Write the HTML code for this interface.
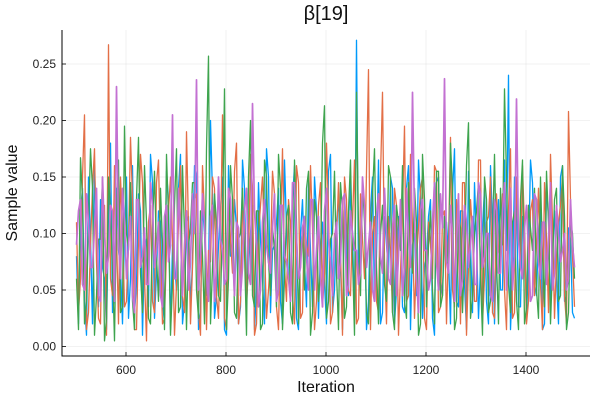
<!DOCTYPE html>
<html><head><meta charset="utf-8"><style>
html,body{margin:0;padding:0;background:#fff;}
svg{display:block;font-family:"Liberation Sans","DejaVu Sans",sans-serif;}
</style></head><body>
<svg id="chart" width="600" height="400" viewBox="0 0 600 400"></svg>
<script>
// values in thousandths of the sample value; each chain = odd samples (A) interleaved with even samples (B)
const xTicks = [600, 800, 1000, 1200, 1400];
const yTicks = [0.00, 0.05, 0.10, 0.15, 0.20, 0.25];
const yTickLabels = ["0.00", "0.05", "0.10", "0.15", "0.20", "0.25"];
const chainColors = ["#009AFA", "#E36F47", "#3EA44E", "#C371D2"];
const chain1A = [80,120,40,150,20,95,130,60,110,30,140,70,100,25,160,55,120,85,35,145,65,110,20,130,90,50,170,40,115,75,150,30,100,60,135,45,120,15,160,80,105,35,140,70,125,50,95,20,150,85,110,40,165,60,130,25,100,75,145,35,120,90,55,155,30,110,70,135,45,100,271,60,125,40,150,80,20,115,65,140,50,105,30,160,90,45,130,70,115,25,145,60,100,80,135,40,120,55,155,30,95,70,140,20,110,85,50,165,240,60,125,35,100,75,145,45,130,20,115,90,60,150,40,105,30];
const chain1B = [20,140,10,95,160,35,70,15,180,45,85,20,150,60,30,135,10,95,170,25,120,40,155,15,75,140,20,110,35,160,15,125,45,200,25,90,150,10,80,130,20,165,40,100,15,145,60,175,30,90,140,20,105,45,160,15,130,35,85,150,25,110,20,170,50,130,15,95,145,25,60,135,15,120,40,165,30,90,150,20,115,35,140,15,100,165,25,80,130,10,150,45,110,20,175,35,120,15,90,145,25,105,40,160,20,130,50,85,15,150,35,115,25,165,55,100,15,140,30,120,20,160,45,95,25];
const chain2A = [110,60,205,30,140,75,20,125,267,45,100,150,35,90,130,15,170,60,110,40,145,80,25,120,95,55,160,30,105,70,135,10,115,85,150,45,95,25,130,65,180,40,110,75,140,20,125,90,50,155,35,100,70,130,45,160,25,115,80,105,40,145,65,120,30,95,85,150,50,110,20,135,60,245,100,40,150,75,115,30,125,65,195,45,105,80,140,25,110,60,155,35,120,90,50,130,20,145,70,100,40,165,60,115,30,135,80,50,120,25,150,70,105,40,130,90,55,145,30,110,75,125,45,208,80];
const chain2B = [30,150,15,90,175,25,120,10,60,160,20,105,40,185,15,95,145,5,125,30,165,20,85,150,10,110,45,190,20,130,30,160,15,75,140,25,205,15,95,155,20,120,35,170,10,100,150,25,80,135,15,175,40,110,20,145,30,90,160,15,125,35,180,20,100,145,10,130,45,165,25,95,155,15,115,30,225,20,85,140,10,120,40,170,25,105,150,15,90,160,30,115,20,185,35,95,145,10,130,40,165,20,110,150,25,85,135,15,175,30,100,160,20,120,45,140,15,95,170,25,110,150,20,130,35];
const chain3A = [60,167,20,110,140,45,95,5,150,70,120,30,195,85,40,130,65,160,25,105,80,140,15,115,55,175,35,100,90,145,50,120,20,257,70,110,40,228,60,130,25,100,85,150,45,120,15,165,75,105,35,140,60,125,20,110,90,50,155,30,115,70,213,40,100,65,145,25,120,80,225,45,110,20,135,70,100,55,160,30,125,85,40,145,65,110,20,130,90,50,155,35,115,70,140,25,105,80,198,45,120,60,150,30,95,75,140,228,55,110,40,130,20,125,85,50,150,35,110,70,140,45,115,30,100];
const chain3B = [15,130,40,175,10,95,150,25,120,5,165,35,100,145,15,185,30,110,20,155,40,90,170,10,125,30,160,15,105,145,25,80,175,20,135,45,110,15,160,30,95,140,10,200,35,120,20,150,45,85,170,15,115,30,165,20,100,140,10,130,40,180,25,95,155,15,120,35,165,10,105,145,30,90,175,20,125,40,150,15,110,160,25,85,140,10,170,35,120,20,155,45,95,180,15,115,30,160,25,100,145,10,130,40,170,20,90,150,30,120,15,165,35,105,140,25,80,155,20,130,40,160,15,110,60];
const chain4A = [90,130,50,110,70,140,40,100,80,120,230,60,110,90,45,130,70,105,55,125,85,45,115,75,205,60,100,90,50,135,236,80,110,40,125,70,95,55,140,85,110,45,120,65,215,90,50,130,75,105,40,125,80,60,145,95,70,115,50,130,85,60,120,95,45,110,75,135,55,100,85,65,125,90,50,115,80,140,60,105,45,130,70,95,225,60,120,85,50,110,75,135,237,65,100,90,45,125,70,115,55,135,80,100,40,120,65,145,90,50,219,70,105,85,45,130,60,110,95,50,125,75,100,60,90];
const chain4B = [120,55,135,70,105,45,150,65,125,40,95,140,60,115,30,130,80,55,145,70,110,35,125,90,60,140,45,120,75,100,50,135,65,115,40,150,85,60,130,45,105,70,140,55,120,35,110,90,65,135,50,125,75,40,145,60,105,80,130,50,115,35,140,75,95,60,130,45,120,85,55,150,70,110,40,135,65,100,55,125,80,45,140,70,115,30,130,85,60,145,50,105,75,125,40,135,60,110,90,55,145,70,100,45,130,65,120,50,140,80,95,60,125,40,135,75,110,55,145,65,100,85,50,130,70];
const chainsA = [chain1A, chain2A, chain3A, chain4A];
const chainsB = [chain1B, chain2B, chain3B, chain4B];
const chainWidths = [1.3, 1.3, 1.3, 1.7];

const svg = document.getElementById('chart');
const NS = "http://www.w3.org/2000/svg";
const L = 62, R = 590, T = 30, B = 356;
function xScale(v){ return 76 + (v - 500) * 0.5; }
function yScale(v){ return 346.5 - v * 1130; }
function mk(tag, attrs){ const e = document.createElementNS(NS, tag); for (const k in attrs) e.setAttribute(k, attrs[k]); svg.appendChild(e); return e; }

xTicks.forEach(t => {
  const g = mk('line', {x1: xScale(t), x2: xScale(t), y1: T, y2: B, stroke: '#000', 'stroke-opacity': 0.1, 'stroke-width': 0.5});
  
  
});
yTicks.forEach(t => {
  const g = mk('line', {x1: L, x2: R, y1: yScale(t), y2: yScale(t), stroke: '#000', 'stroke-opacity': 0.1, 'stroke-width': 0.5});
  
  
});

chainsA.forEach((a, ci) => {
  const b = chainsB[ci];
  const vals = [];
  for (let i = 0; i < a.length; i++) { vals.push(a[i]); if (i < b.length) vals.push(b[i]); }
  const pts = vals.map((v, i) => xScale(501 + i * 1000 / vals.length).toFixed(1) + ',' + yScale(v / 1000).toFixed(1)).join(' ');
  const p = mk('polyline', {points: pts, fill: 'none', stroke: chainColors[ci], 'stroke-width': chainWidths[ci], 'stroke-linejoin': 'round'});
  
  
});

const ax = mk('polyline', {points: `${L},${T} ${L},${B} ${R},${B}`, fill: 'none', stroke: '#000', 'stroke-width': 1});



xTicks.forEach(t => {
  const tk = mk('line', {x1: xScale(t), x2: xScale(t), y1: B, y2: B - 4, stroke: '#000', 'stroke-width': 0.8});
  
  
  const lb = mk('text', {x: xScale(t), y: B + 18, 'text-anchor': 'middle', 'font-size': 12, fill: '#222'});
  lb.textContent = t;
  
  
});
yTicks.forEach((t, i) => {
  const tk = mk('line', {x1: L, x2: L + 4, y1: yScale(t), y2: yScale(t), stroke: '#000', 'stroke-width': 0.8});
  
  
  const lb = mk('text', {x: L - 6, y: yScale(t) + 4, 'text-anchor': 'end', 'font-size': 12, fill: '#222'});
  lb.textContent = yTickLabels[i];
  
  
});

const title = mk('text', {x: 326, y: 20, 'text-anchor': 'middle', 'font-size': 20, fill: '#111'});
title.textContent = 'β[19]';


const xt = mk('text', {x: 326, y: 392, 'text-anchor': 'middle', 'font-size': 16, fill: '#111'});
xt.textContent = 'Iteration';


const yt = mk('text', {x: 17, y: 193, 'text-anchor': 'middle', 'font-size': 16, fill: '#111', transform: 'rotate(-90 17 193)'});
yt.textContent = 'Sample value';


</script>
</body></html>
